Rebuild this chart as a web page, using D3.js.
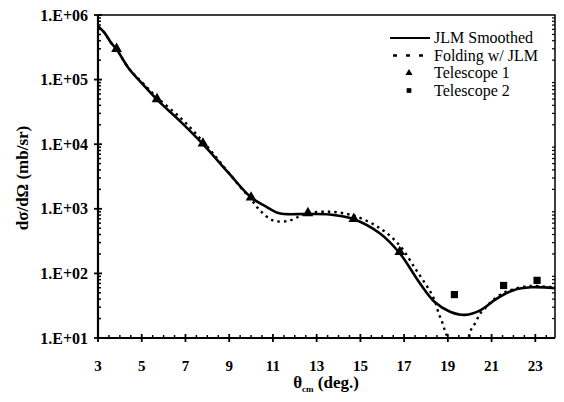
<!DOCTYPE html>
<html>
<head>
<meta charset="utf-8">
<script src="https://cdn.jsdelivr.net/npm/d3@7"></script>
<style>
  body { margin: 0; background: #fff; }
</style>
</head>
<body>
<div id="chart"></div>
<script>
// scattering angle (deg, c.m.) for the two model curves
const smoothAngles = [3.02, 3.3, 3.6, 3.85, 4.4, 5.0, 5.7, 6.8, 7.8, 9.0, 10.0, 10.65, 11.3, 12.5, 13.6, 14.7, 15.9, 16.8, 17.7, 18.4, 19.1, 19.8, 20.5, 21.2, 22.0, 22.8, 23.9];
const smoothValues = [6.6e5, 5.3e5, 3.7e5, 2.95e5, 1.5e5, 8.8e4, 4.9e4, 2.2e4, 1.0e4, 3.5e3, 1.5e3, 1.1e3, 850, 830, 815, 690, 415, 205, 72, 36, 25.5, 22.8, 27, 40, 55, 61, 59];

const foldAngles = [3.02, 3.3, 3.6, 3.85, 4.4, 5.0, 5.7, 6.8, 7.8, 8.6, 9.4, 10.0, 10.4, 11.0, 11.7, 12.2, 12.6, 13.6, 14.7, 15.9, 16.8, 17.5, 17.96, 18.2, 18.4, 18.58, 18.73, 18.88, 19.0, 19.3, 19.6, 19.85, 20.02, 20.25, 20.48, 20.75, 21.0, 21.5, 22.0, 22.8, 23.9];
const foldValues = [6.6e5, 5.3e5, 3.7e5, 2.95e5, 1.5e5, 9.2e4, 5.3e4, 2.5e4, 1.1e4, 5.2e3, 2.4e3, 1.4e3, 950, 660, 650, 760, 850, 900, 780, 500, 270, 120, 70, 52, 38, 24, 18, 12.6, 10, 6, 5, 6.5, 12.6, 17, 24, 30, 37, 49, 57, 64, 60];

// measured points
const tel1Angles = [3.85, 5.7, 7.8, 10.0, 12.6, 14.7, 16.8];
const tel1Values = [3.0e5, 5.0e4, 1.03e4, 1.5e3, 860, 700, 215];
const tel2Angles = [19.3, 21.55, 23.08];
const tel2Values = [47, 65, 78];

const xTicks = [3, 5, 7, 9, 11, 13, 15, 17, 19, 21, 23];
const yTicks = [1e1, 1e2, 1e3, 1e4, 1e5, 1e6];
const yTickLabels = ["1.E+01", "1.E+02", "1.E+03", "1.E+04", "1.E+05", "1.E+06"];
const legendNames = ["JLM Smoothed", "Folding w/ JLM", "Telescope 1", "Telescope 2"];

const W = 564, H = 402;
const pL = 98, pR = 555, pT = 15, pB = 338;
const FONT = '"Liberation Serif", "Tinos", monospace';

const svg = d3.select("#chart").append("svg")
  .attr("width", W)
  .attr("height", H)
  .style("font-family", FONT);

const x = d3.scaleLinear().domain([3, 23.9]).range([pL, pR]);
const y = d3.scaleLog().domain([10, 1e6]).range([pB, pT]);

svg.append("clipPath").attr("id", "plotclip")
  .append("rect")
  .attr("x", pL).attr("y", pT)
  .attr("width", pR - pL).attr("height", pB - pT);

// frame (top and right)
svg.append("path")
  .attr("d", `M${pL},${pT}H${pR}V${pB}`)
  .attr("fill", "none")
  .attr("stroke", "#000")
  .attr("stroke-width", 1.5);

// x axis
const xMinor = d3.range(3, 23.91, 0.5).filter(v => v % 2 !== 1);
const xAxis = svg.append("g").attr("transform", `translate(0,${pB})`);
xAxis.append("line")
  .attr("x1", pL).attr("x2", pR)
  .attr("stroke", "#000").attr("stroke-width", 2.2);
xAxis.selectAll("line.minor")
  .data(xMinor)
  .enter().append("line")
  .attr("class", "minor")
  .attr("x1", d => x(d)).attr("x2", d => x(d))
  .attr("y1", 0).attr("y2", -3)
  .attr("stroke", "#000").attr("stroke-width", 1.5);
xAxis.selectAll("line.major")
  .data(xTicks)
  .enter().append("line")
  .attr("class", "major")
  .attr("x1", d => x(d)).attr("x2", d => x(d))
  .attr("y1", -4).attr("y2", 4)
  .attr("stroke", "#000").attr("stroke-width", 1.8);
xAxis.selectAll("text")
  .data(xTicks)
  .enter().append("text")
  .attr("x", d => x(d))
  .attr("y", 33)
  .attr("text-anchor", "middle")
  .style("font-family", FONT)
  .style("font-size", "15px")
  .style("font-weight", "bold")
  .text(d => d);

// y axis
const yMinor = [];
for (let e = 1; e < 6; e++) {
  for (let m = 2; m <= 9; m++) yMinor.push(m * Math.pow(10, e));
}
const yAxis = svg.append("g").attr("transform", `translate(${pL},0)`);
yAxis.append("line")
  .attr("y1", pT).attr("y2", pB)
  .attr("stroke", "#000").attr("stroke-width", 2.2);
yAxis.selectAll("line.minor")
  .data(yMinor)
  .enter().append("line")
  .attr("class", "minor")
  .attr("y1", d => y(d)).attr("y2", d => y(d))
  .attr("x1", 0).attr("x2", 3)
  .attr("stroke", "#000").attr("stroke-width", 1.5);
yAxis.selectAll("line.major")
  .data(yTicks)
  .enter().append("line")
  .attr("class", "major")
  .attr("y1", d => y(d)).attr("y2", d => y(d))
  .attr("x1", -4).attr("x2", 4)
  .attr("stroke", "#000").attr("stroke-width", 1.8);
yAxis.selectAll("text")
  .data(yTicks)
  .enter().append("text")
  .attr("x", -10)
  .attr("y", d => y(d))
  .attr("dy", "0.35em")
  .attr("text-anchor", "end")
  .style("font-family", FONT)
  .style("font-size", "16px")
  .style("font-weight", "bold")
  .text((d, i) => yTickLabels[i]);

// right side mirror ticks
svg.selectAll("line.rminor")
  .data(yMinor)
  .enter().append("line")
  .attr("class", "rminor")
  .attr("x1", pR).attr("x2", pR - 3)
  .attr("y1", d => y(d)).attr("y2", d => y(d))
  .attr("stroke", "#000").attr("stroke-width", 1.2);

// axis titles
svg.append("text")
  .attr("transform", "translate(28,178) rotate(-90)")
  .attr("text-anchor", "middle")
  .style("font-family", FONT)
  .style("font-size", "17px")
  .style("font-weight", "bold")
  .text("d\u03C3/d\u03A9 (mb/sr)");

const xt = svg.append("text")
  .attr("x", 326)
  .attr("y", 388)
  .attr("text-anchor", "middle")
  .style("font-family", FONT)
  .style("font-size", "17px")
  .style("font-weight", "bold");
xt.append("tspan").text("\u03B8");
xt.append("tspan").attr("dy", 4).style("font-size", "9px").text("cm");
xt.append("tspan").attr("dy", -4).text(" (deg.)");

// curves
const plot = svg.append("g").attr("clip-path", "url(#plotclip)");
const line = d3.line()
  .x(d => x(d[0]))
  .y(d => y(d[1]))
  .curve(d3.curveCatmullRom.alpha(0.5));

plot.append("path")
  .datum(foldAngles.map((a, i) => [a, foldValues[i]]))
  .attr("d", line)
  .attr("fill", "none")
  .attr("stroke", "#000")
  .attr("stroke-width", 2.4)
  .attr("stroke-dasharray", "2.5,4");

plot.append("path")
  .datum(smoothAngles.map((a, i) => [a, smoothValues[i]]))
  .attr("d", line)
  .attr("fill", "none")
  .attr("stroke", "#000")
  .attr("stroke-width", 2.6);

// markers
const tri = d3.symbol().type(d3.symbolTriangle).size(50);
const sq = d3.symbol().type(d3.symbolSquare).size(52);

plot.selectAll("path.tel1")
  .data(tel1Angles.map((a, i) => [a, tel1Values[i]]))
  .enter().append("path")
  .attr("class", "tel1")
  .attr("d", tri)
  .attr("transform", d => `translate(${x(d[0])},${y(d[1])})`)
  .attr("fill", "#000");

plot.selectAll("path.tel2")
  .data(tel2Angles.map((a, i) => [a, tel2Values[i]]))
  .enter().append("path")
  .attr("class", "tel2")
  .attr("d", sq)
  .attr("transform", d => `translate(${x(d[0])},${y(d[1])})`)
  .attr("fill", "#000");

// legend
const lg = svg.append("g");
const rows = [38, 55.5, 73, 90.5];
lg.append("line")
  .attr("x1", 390).attr("x2", 430)
  .attr("y1", rows[0]).attr("y2", rows[0])
  .attr("stroke", "#000").attr("stroke-width", 2.2);
lg.append("line")
  .attr("x1", 393).attr("x2", 426)
  .attr("y1", rows[1]).attr("y2", rows[1])
  .attr("stroke", "#000").attr("stroke-width", 2.4)
  .attr("stroke-dasharray", "4,9");
lg.append("path")
  .attr("d", d3.symbol().type(d3.symbolTriangle).size(22))
  .attr("transform", `translate(409,${rows[2]})`);
lg.append("path")
  .attr("d", d3.symbol().type(d3.symbolSquare).size(22))
  .attr("transform", `translate(409,${rows[3]})`);
lg.selectAll("text")
  .data(legendNames)
  .enter().append("text")
  .attr("x", 434)
  .attr("y", (d, i) => rows[i])
  .attr("dy", "0.33em")
  .style("font-family", FONT)
  .style("font-size", "16px")
  .text(d => d);
</script>
</body>
</html>
